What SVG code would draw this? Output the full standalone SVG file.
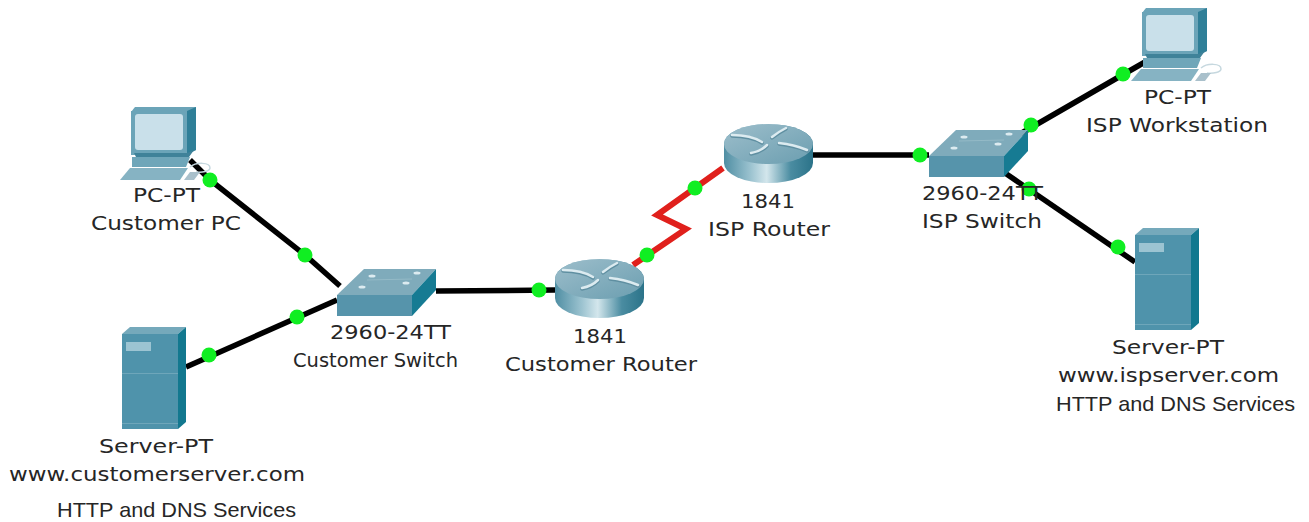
<svg xmlns="http://www.w3.org/2000/svg" xmlns:xlink="http://www.w3.org/1999/xlink" width="1309" height="522" viewBox="0 0 1309 522">
<style>
.t{font-family:"DejaVu Sans",Verdana,sans-serif;font-size:20px;fill:#262626}
.h{font-family:"Liberation Sans",Arial,sans-serif;font-size:21px;fill:#262626}
.l{fill:none;stroke:#000;stroke-width:5.500}
.s{fill:none;stroke:#e0201c;stroke-width:6}
.d{fill:#10ee22}
.ra{fill:none;stroke-linecap:round}
</style>
<defs>
<linearGradient id="rb" x1="0" x2="1" y1="0" y2="0">
<stop offset="0" stop-color="#4f8ea3"/><stop offset=".3" stop-color="#9cc3d0"/><stop offset=".48" stop-color="#d3e6ec"/><stop offset=".75" stop-color="#4a8ca1"/><stop offset="1" stop-color="#2b7389"/>
</linearGradient>
<linearGradient id="rt" x1="0" x2="1" y1="0" y2="1">
<stop offset="0" stop-color="#9dbecb"/><stop offset="1" stop-color="#6b9eb0"/>
</linearGradient>
<g id="pc">
<path d="M11 5 L15 0 H76 V43 L67 48 H11Z" fill="#6ba4b8"/>
<path d="M67 4 L76 0 V43 L67 47Z" fill="#2f7f98"/>
<rect x="11" y="4" width="56" height="42" fill="#6ba4b8"/>
<rect x="15" y="7" width="48" height="36" rx="3" fill="#c9e0ea"/>
<path d="M14 46 H67 L74 43 L69 50 H16Z" fill="#3f8299"/>
<path d="M12 50 H70 L66 60 H12Z" fill="#6fa6b9"/>
<path d="M10 61 H68 L60 73 H0Z" fill="#86b3c3"/>
<path d="M70 60 C76 55 90 55 90 61 C90 64 82 66 76 65" fill="none" stroke="#c6d8df" stroke-width="1.500"/>
<path d="M64 73 L70 65 H80 L74 73Z" fill="#a9c0cb"/>
</g>
<g id="server">
<path d="M0 7 L8 0 H64 L56 7Z" fill="#75a9bb"/>
<path d="M56 7 L64 0 V95 L56 102Z" fill="#12788f"/>
<rect x="0" y="7" width="56" height="95" fill="#4f93ab"/>
<rect x="4" y="15" width="25" height="9" fill="#9cc4d2"/>
<path d="M0 46.500 H56" stroke="#6ea6ba" stroke-width="1"/>
<path d="M0 96.500 H56" stroke="#6ea6ba" stroke-width="1"/>
</g>
<g id="switch">
<path d="M0 27 L27 1 H99 L75 27Z" fill="#7fabbb"/>
<path d="M75 27 L99 1 V22 L75 48Z" fill="#167b93"/>
<rect x="0" y="27" width="75" height="21" fill="#5694ab"/>
<g fill="#dcebf0"><ellipse cx="35" cy="8" rx="3.500" ry="1.500"/><ellipse cx="80" cy="5" rx="3.500" ry="1.500"/><ellipse cx="25" cy="19" rx="3.500" ry="1.500"/><ellipse cx="69" cy="15" rx="3.500" ry="1.500"/></g>
<path d="M30 12 L75 11" stroke="#94bac7" stroke-width="1"/>
</g>
<g id="router">
<path d="M0 20 A44.500 20 0 0 1 89 20 V39 A44.500 20 0 0 1 0 39Z" fill="url(#rb)"/>
<ellipse cx="44.500" cy="20" rx="44.500" ry="20" fill="url(#rt)"/>
<g class="ra" stroke="#5f8fa1" stroke-width="3.500" transform="translate(0 1)">
<path d="M8 11 C20 11 30 13 38 18"/>
<path d="M48 13 C53 9 58 6 62 4"/>
<path d="M55 19 C66 20 76 23 83 26"/>
<path d="M27 29 C33 28 39 25 43 21"/>
</g>
<g class="ra" stroke="#dcebf0" stroke-width="2.500">
<path d="M8 11 C20 11 30 13 38 18"/>
<path d="M48 13 C53 9 58 6 62 4"/>
<path d="M55 19 C66 20 76 23 83 26"/>
<path d="M27 29 C33 28 39 25 43 21"/>
</g>
</g>
</defs>
<rect width="1309" height="522" fill="#fff"/>
<g id="connectors">
<path class="l" d="M190 160 L210 180 L305 255 L340 286"/>
<path class="l" d="M186 367 L337 300"/>
<path class="l" d="M436 291 L555 290"/>
<path class="s" d="M633 265 L686 229 L657 215 L723 168"/>
<path class="l" d="M813 155 L929 155"/>
<path class="l" d="M1020 134 L1124 74 L1145 62"/>
<path class="l" d="M1005 173 L1135 262"/>
<g class="d">
<circle cx="210" cy="180" r="7.500"/><circle cx="305" cy="255" r="7.500"/>
<circle cx="297" cy="317" r="7.500"/><circle cx="209" cy="355" r="7.500"/>
<circle cx="539" cy="290" r="7.500"/><circle cx="647" cy="255" r="7.500"/>
<circle cx="695" cy="188" r="7.500"/><circle cx="920" cy="155" r="7.500"/>
<circle cx="1031" cy="125" r="7.500"/><circle cx="1123" cy="74" r="7.500"/>
<circle cx="1118" cy="247" r="7.500"/><circle cx="1029" cy="189" r="7.500"/>
</g>
</g>
<g id="customer-pc">
<use xlink:href="#pc" href="#pc" x="120" y="107"/>
<text class="t" x="133" y="202" textLength="67" lengthAdjust="spacingAndGlyphs">PC-PT</text>
<text class="t" x="91" y="230" textLength="150" lengthAdjust="spacingAndGlyphs">Customer PC</text>
</g>
<g id="customer-server">
<use xlink:href="#server" href="#server" x="122" y="327"/>
<text class="t" x="99" y="453" textLength="114" lengthAdjust="spacingAndGlyphs">Server-PT</text>
<text class="t" x="9" y="481" textLength="296" lengthAdjust="spacingAndGlyphs">www.customerserver.com</text>
<text class="h" x="57" y="517" textLength="239" lengthAdjust="spacingAndGlyphs">HTTP and DNS Services</text>
</g>
<g id="customer-switch">
<use xlink:href="#switch" href="#switch" x="337" y="268"/>
<text class="t" x="330" y="339" textLength="121" lengthAdjust="spacingAndGlyphs">2960-24TT</text>
<text class="t" x="293" y="367" textLength="165" lengthAdjust="spacingAndGlyphs">Customer Switch</text>
</g>
<g id="customer-router">
<use xlink:href="#router" href="#router" x="555" y="259"/>
<text class="t" x="573" y="343" textLength="54" lengthAdjust="spacingAndGlyphs">1841</text>
<text class="t" x="505" y="371" textLength="192" lengthAdjust="spacingAndGlyphs">Customer Router</text>
</g>
<g id="isp-router">
<use xlink:href="#router" href="#router" x="724" y="124"/>
<text class="t" x="741" y="208" textLength="54" lengthAdjust="spacingAndGlyphs">1841</text>
<text class="t" x="708" y="236" textLength="122" lengthAdjust="spacingAndGlyphs">ISP Router</text>
</g>
<g id="isp-switch">
<use xlink:href="#switch" href="#switch" x="929" y="129"/>
<text class="t" x="922" y="200" textLength="121" lengthAdjust="spacingAndGlyphs">2960-24TT</text>
<text class="t" x="922" y="228" textLength="120" lengthAdjust="spacingAndGlyphs">ISP Switch</text>
</g>
<g id="isp-workstation">
<use xlink:href="#pc" href="#pc" x="1131" y="8"/>
<text class="t" x="1144" y="104" textLength="67" lengthAdjust="spacingAndGlyphs">PC-PT</text>
<text class="t" x="1086" y="132" textLength="182" lengthAdjust="spacingAndGlyphs">ISP Workstation</text>
</g>
<g id="isp-server">
<use xlink:href="#server" href="#server" x="1135" y="228"/>
<text class="t" x="1112" y="354" textLength="112" lengthAdjust="spacingAndGlyphs">Server-PT</text>
<text class="t" x="1058" y="382" textLength="221" lengthAdjust="spacingAndGlyphs">www.ispserver.com</text>
<text class="h" x="1056" y="411" textLength="239" lengthAdjust="spacingAndGlyphs">HTTP and DNS Services</text>
</g>
</svg>
